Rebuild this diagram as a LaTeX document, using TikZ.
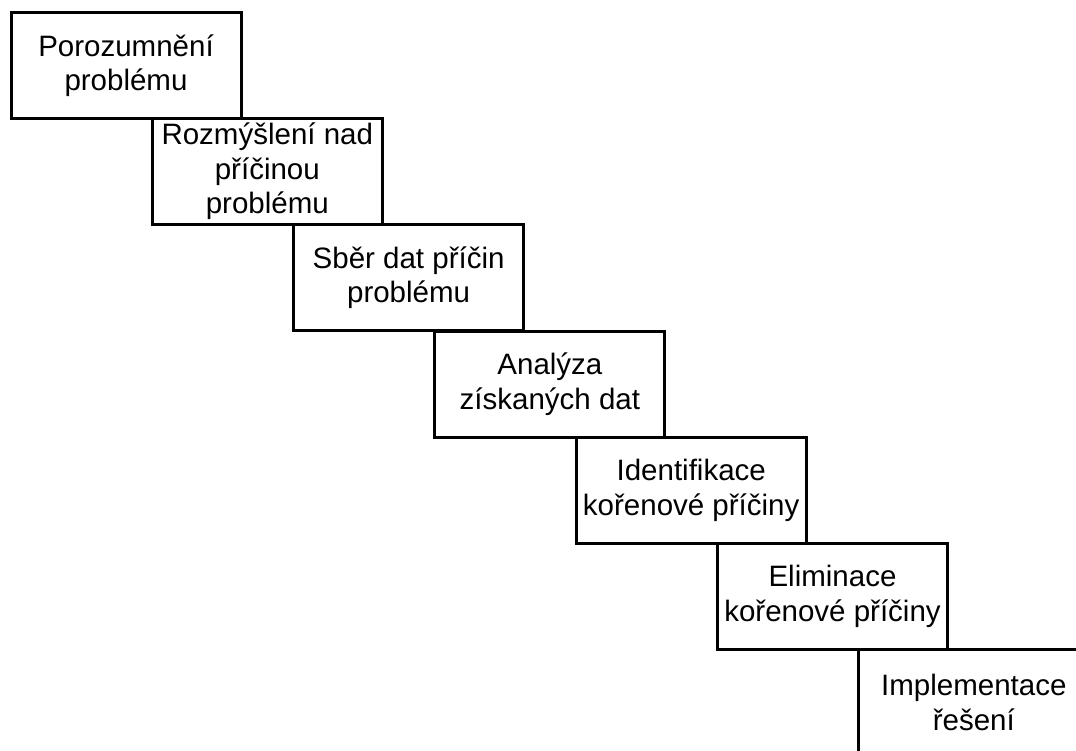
\documentclass[tikz,border=0pt]{standalone}
\usepackage{fontspec}
\setmainfont{Liberation Sans}

\begin{document}
\begin{tikzpicture}[
    x=1pt, y=-1pt,
    line/.style  = {line width=3pt},
    stage/.style = {draw, line, fill=white, align=center, inner sep=1pt,
                    minimum width=230pt, minimum height=106pt,
                    font=\fontsize{29.5}{34.5}\selectfont}
]

\useasboundingbox (0,0) rectangle (1076,751);
\clip (0,0) rectangle (1076,751);

% Staircase of process steps, each one step down and right
\foreach \i/\lab in {1/{Porozumnění\\problému},
                     2/{Rozmýšlení nad\\příčinou\\problému},
                     3/{Sběr dat příčin\\problému},
                     4/{Analýza\\získaných dat},
                     5/{Identifikace\\kořenové příčiny},
                     6/{Eliminace\\kořenové příčiny},
                     7/{Implementace\\řešení}}
    \node[stage] (s\i) at ({126+141.3*(\i-1)}, {65.5+106.2*(\i-1)}) {\lab};

\end{tikzpicture}
\end{document}
